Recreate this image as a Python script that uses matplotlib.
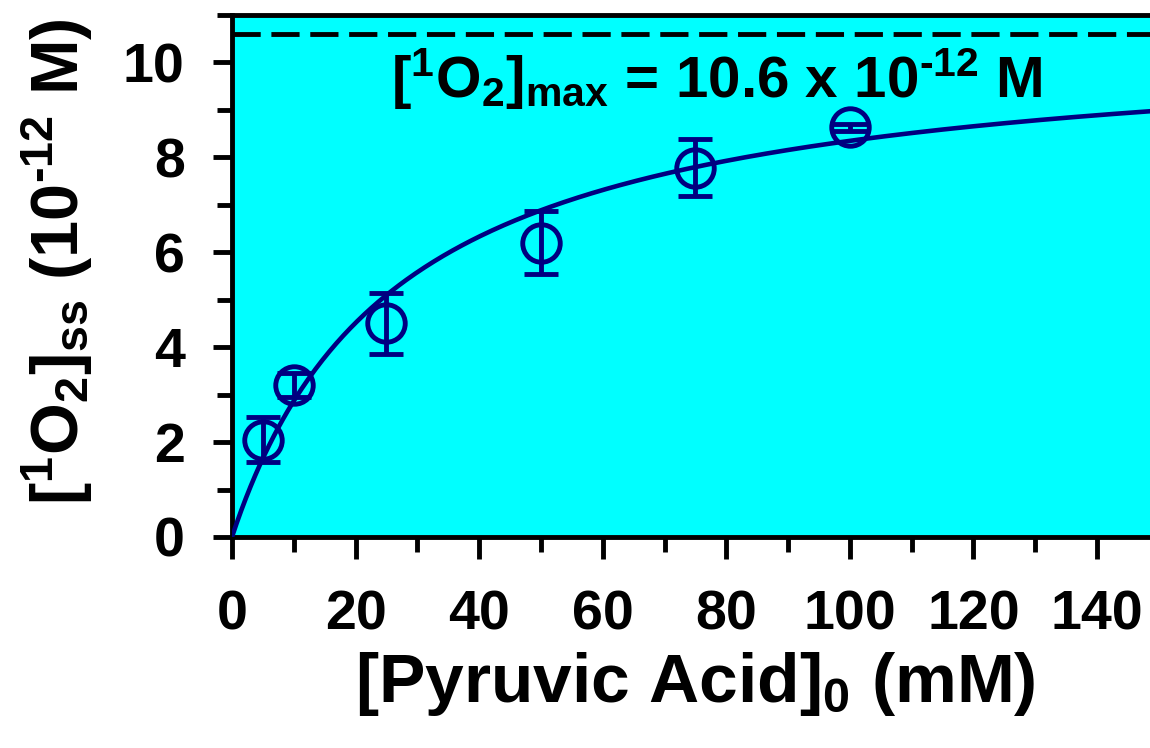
import numpy as np
import matplotlib
matplotlib.use('Agg')
import matplotlib.pyplot as plt
from matplotlib.ticker import MultipleLocator

plt.rcParams['font.family'] = ['Liberation Sans', 'DejaVu Sans']
plt.rcParams['font.weight'] = 'bold'
plt.rcParams['mathtext.fontset'] = 'custom'
plt.rcParams['mathtext.rm'] = 'Liberation Sans:bold'
plt.rcParams['mathtext.it'] = 'Liberation Sans:bold'
plt.rcParams['mathtext.bf'] = 'Liberation Sans:bold'
plt.rcParams['mathtext.default'] = 'rm'

# measured points
pyruvic = [5, 10, 25, 50, 75, 100]          # mM
o2_ss = [2.05, 3.2, 4.5, 6.2, 7.78, 8.63]   # 10^-12 M
o2_err = [0.47, 0.25, 0.64, 0.66, 0.6, 0.08]

# fit parameters
o2_max = 10.6
k_half = 27.0

navy = '#000080'

fig = plt.figure(figsize=(11.5, 7.48), dpi=100)
ax = fig.add_axes([0.2017, 0.2821, 0.806, 0.698])
ax.set_facecolor('#00FFFF')

xfit = np.linspace(0, 150, 400)
ax.plot(xfit, o2_max * xfit / (k_half + xfit), color=navy, lw=3.3, zorder=3)
ax.axhline(o2_max, color='black', lw=3.5, dashes=(5.8, 2.2), zorder=2)

ax.errorbar(pyruvic, o2_ss, yerr=o2_err, fmt='o', ms=27, mfc='none', mec=navy,
            mew=3.5, ecolor=navy, elinewidth=3.5, capsize=12, capthick=3.5, zorder=4)

ax.text(78.5, 9.65, r'$[^1$O$_2]_{max}$ = 10.6 x 10$^{\text{-}12}$ M', fontsize=42,
        fontweight='bold', ha='center', va='center')

ax.set_xlim(0, 150)
ax.set_ylim(0, 11)
ax.xaxis.set_major_locator(MultipleLocator(20))
ax.xaxis.set_minor_locator(MultipleLocator(10))
ax.yaxis.set_major_locator(MultipleLocator(2))
ax.yaxis.set_minor_locator(MultipleLocator(1))

for s in ['left', 'bottom', 'top']:
    ax.spines[s].set_linewidth(3.5)
ax.spines['right'].set_visible(False)

ax.tick_params(axis='x', which='major', direction='out', length=16, width=3.5,
               labelsize=40, pad=22)
ax.tick_params(axis='x', which='minor', direction='out', length=11, width=3.5)
ax.tick_params(axis='y', which='major', direction='out', length=14, width=3.5,
               labelsize=40, pad=20)
ax.tick_params(axis='y', which='minor', direction='out', length=11, width=3.5)

ax.set_xlabel(r'[Pyruvic Acid]$_0$ (mM)', fontsize=50, fontweight='bold')
ax.set_ylabel(r'$[^1$O$_2]_{ss}$ (10$^{\text{-}12}$ M)', fontsize=48, fontweight='bold')
ax.xaxis.set_label_coords(0.5, -0.216)
ax.yaxis.set_label_coords(-0.148, 0.527)

fig.savefig('out.png', dpi=100)
